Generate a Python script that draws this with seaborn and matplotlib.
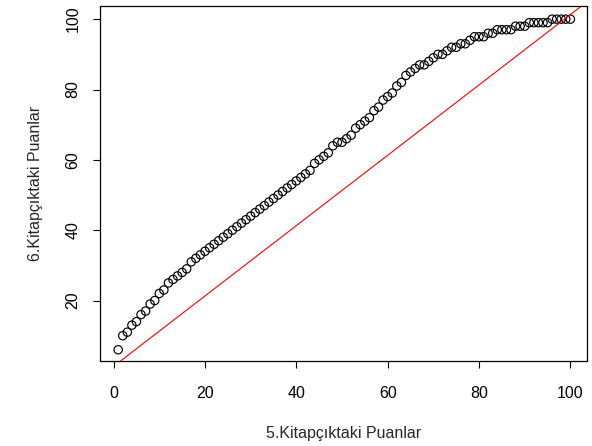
import numpy as np
import pandas as pd
import matplotlib
matplotlib.use('Agg')
import matplotlib.pyplot as plt
import seaborn as sns

sns.set_style('ticks')
plt.rcParams['font.family'] = ['Liberation Sans', 'DejaVu Sans']

# 5. ve 6. kitapçık puanları (sıralı, Q-Q)
puan5 = list(range(1, 101))
puan6 = [6, 10, 11, 13, 14, 16, 17, 19, 20, 22,
         23, 25, 26, 27, 28, 29, 31, 32, 33, 34,
         35, 36, 37, 38, 39, 40, 41, 42, 43, 44,
         45, 46, 47, 48, 49, 50, 51, 52, 53, 54,
         55, 56, 57, 59, 60, 61, 62, 64, 65, 65,
         66, 67, 69, 70, 71, 72, 74, 75, 77, 78,
         79, 81, 82, 84, 85, 86, 87, 87, 88, 89,
         90, 90, 91, 92, 92, 93, 93, 94, 95, 95,
         95, 96, 96, 97, 97, 97, 97, 98, 98, 98,
         99, 99, 99, 99, 99, 100, 100, 100, 100, 100]
xticks = [0, 20, 40, 60, 80, 100]
yticks = [20, 40, 60, 80, 100]

df = pd.DataFrame({'x': puan5, 'y': puan6})

fig = plt.figure(figsize=(5.92, 4.46), dpi=100)
ax = fig.add_axes([0.169, 0.191, 0.823, 0.796])

sns.scatterplot(data=df, x='x', y='y', ax=ax, marker='o', s=36,
                facecolor='none', edgecolor='black', linewidth=0.85)
# referans doğrusu
ax.axline((0, 1.3), slope=1, color='red', linewidth=0.8)

ax.set_xlim(-2.97, 103.7)
ax.set_ylim(2.86, 103.8)
ax.set_xticks(xticks)
ax.set_yticks(yticks)
ax.set_yticklabels([str(t) for t in yticks], rotation=90, va='center')
ax.tick_params(axis='both', direction='out', length=5, width=0.8,
               labelsize=11.5, colors='black')
ax.tick_params(axis='x', pad=13)
ax.tick_params(axis='y', pad=9)
for s in ax.spines.values():
    s.set_linewidth(0.9)
    s.set_color('black')

ax.set_xlabel('5.Kitapçıktaki Puanlar', fontsize=11.5, labelpad=18)
ax.set_ylabel('6.Kitapçıktaki Puanlar', fontsize=11.5, labelpad=16)

plt.savefig('out.png', dpi=100)
